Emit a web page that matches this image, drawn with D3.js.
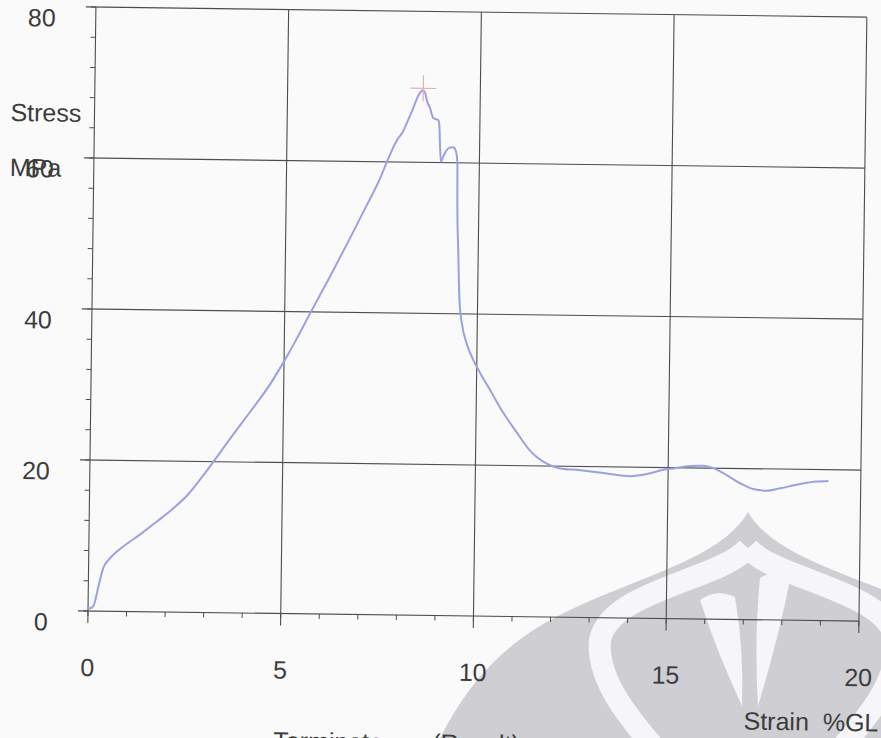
<!DOCTYPE html>
<html>
<head>
<meta charset="utf-8">
<script src="https://cdn.jsdelivr.net/npm/d3@7"></script>
<style>
  html, body { margin: 0; padding: 0; background: #fafafb; }
  svg { display: block; }
  text { font-family: "Liberation Sans", Arial, sans-serif; fill: #3c3c3c; }
</style>
</head>
<body>
<div id="chart"></div>
<script>
// values
const strain = [0.00, 0.05, 0.14, 0.26, 0.38, 0.55, 0.89, 1.32, 1.75, 2.18, 2.52, 3.05,
  3.62, 4.13, 4.64, 5.00, 5.32, 5.66, 6.08, 6.59, 7.09, 7.43, 7.60, 7.89, 7.98, 8.18,
  8.51, 8.57, 8.61, 8.70, 8.79, 8.92, 8.95, 8.97, 9.00, 9.06, 9.19, 9.32, 9.39, 9.43,
  9.44, 9.48, 9.53, 9.60, 9.73, 9.91, 10.09, 10.35, 10.70, 11.06, 11.41, 11.85, 12.20,
  12.72, 13.41, 14.01, 14.45, 14.88, 15.14, 15.57, 15.91, 16.17, 16.52, 16.87, 17.21,
  17.56, 17.91, 18.43, 18.86, 19.16];
const stress = [0.6, 0.35, 0.7, 3.2, 5.7, 7.0, 8.6, 10.2, 11.95, 13.75, 15.4, 18.9,
  23.0, 26.6, 30.3, 33.4, 36.4, 39.8, 43.9, 49.0, 54.2, 57.8, 60.0, 63.2, 63.8, 66.1,
  69.5, 69.2, 68.3, 67.2, 65.9, 65.6, 64.8, 62.6, 60.1, 60.8, 61.9, 62.05, 61.5, 59.9,
  55.1, 48.5, 41.8, 38.75, 36.1, 33.9, 32.2, 30.0, 27.0, 24.4, 22.0, 20.3, 19.7,
  19.5, 19.1, 18.8, 19.1, 19.7, 19.9, 20.25, 20.3, 20.0, 19.1, 18.05, 17.3,
  17.1, 17.45, 18.05, 18.4, 18.5];

const peakStrain = [8.52];
const peakStress = [69.8];

const xTicks = [0, 5, 10, 15, 20];
const yTicks = [0, 20, 40, 60, 80];
const xMinor = d3.range(0, 21, 1);
const yMinor = d3.range(0, 81, 4);

const W = 881, H = 738;
const svg = d3.select("#chart").append("svg")
  .attr("width", W).attr("height", H);

// faint university watermark behind the scan (rough shape only)
const wm = svg.append("g");
wm.append("path")
  .attr("d", "M748,512 C720,560 640,575 560,615 C500,645 460,690 430,760 L1070,760 " +
             "C1040,690 1000,645 940,615 C860,575 776,560 748,512 Z")
  .attr("fill", "#cfcfd3");
wm.append("path")
  .attr("d", "M748,548 C720,580 610,590 600,640 C596,680 630,720 665,760 " +
             "M748,548 C776,580 886,590 896,640 C900,680 866,720 831,760")
  .attr("fill", "none").attr("stroke", "#f6f6f8").attr("stroke-width", 22);
wm.append("path")
  .attr("d", "M700,600 Q716,588 735,597 Q744,650 742,706 Q716,650 700,600 Z")
  .attr("fill", "#f6f6f8");
wm.append("path")
  .attr("d", "M760,578 Q776,568 790,580 Q778,640 758,706 Q754,640 760,578 Z")
  .attr("fill", "#f6f6f8");

var x = d3.scaleLinear().domain([0, 20]).range([88, 859]);
var y = d3.scaleLinear().domain([0, 80]).range([611, 7]);

// the scan is tilted a little, so the whole chart is too
const g = svg.append("g")
  .attr("transform", "rotate(0.75," + x(0) + "," + y(0) + ")");

const gridColor = "#4d4d4d";

// minor ticks
g.selectAll("xminor").data(xMinor).enter().append("line")
  .attr("x1", d => x(d)).attr("x2", d => x(d))
  .attr("y1", y(0)).attr("y2", y(0) + 5)
  .attr("stroke", gridColor).attr("stroke-width", 1);
g.selectAll("yminor").data(yMinor).enter().append("line")
  .attr("x1", x(0) - 5).attr("x2", x(0))
  .attr("y1", d => y(d)).attr("y2", d => y(d))
  .attr("stroke", gridColor).attr("stroke-width", 1);

// grid lines (also the frame)
g.selectAll("xgrid").data(xTicks).enter().append("line")
  .attr("x1", d => x(d)).attr("x2", d => x(d))
  .attr("y1", y(80)).attr("y2", y(0) + 12)
  .attr("stroke", gridColor).attr("stroke-width", 1.1);
g.selectAll("ygrid").data(yTicks).enter().append("line")
  .attr("x1", x(0) - 10).attr("x2", x(20))
  .attr("y1", d => y(d)).attr("y2", d => y(d))
  .attr("stroke", gridColor).attr("stroke-width", 1.1);

// tick labels
g.selectAll("ylab").data(yTicks).enter().append("text")
  .attr("x", x(0) - 40).attr("y", d => y(d) + 20)
  .attr("text-anchor", "end").attr("font-size", 25)
  .text(d => d);
g.selectAll("xlab").data(xTicks).enter().append("text")
  .attr("x", d => x(d)).attr("y", y(0) + 65)
  .attr("text-anchor", "middle").attr("font-size", 25)
  .text(d => d);

// axis titles
g.append("text").attr("x", 4).attr("y", 122).attr("font-size", 25).text("Stress");
g.append("text").attr("x", 4).attr("y", 177).attr("font-size", 25).text("MPa");
g.append("text").attr("x", 745).attr("y", 721).attr("font-size", 25)
  .attr("xml:space", "preserve").text("Strain  %GL");
const term = g.append("text").attr("y", 747).attr("font-size", 25);
term.append("tspan").attr("x", 275).text("Terminate");
term.append("tspan").attr("x", 434).text("(Result)");

// the curve
const pts = strain.map((s, i) => [s, stress[i]]);
const line = d3.line()
  .x(d => x(d[0]))
  .y(d => y(d[1]))
  .curve(d3.curveMonotoneX);
g.append("path")
  .datum(pts)
  .attr("d", line)
  .attr("fill", "none")
  .attr("stroke", "#9ca0e2")
  .attr("stroke-width", 2);

// peak marker
g.selectAll("peakh").data(peakStrain).enter().append("line")
  .attr("x1", (d) => x(d) - 13).attr("x2", (d) => x(d) + 13)
  .attr("y1", (d, i) => y(peakStress[i])).attr("y2", (d, i) => y(peakStress[i]))
  .attr("stroke", "#e2b2a8").attr("stroke-width", 1.2);
g.selectAll("peakv").data(peakStrain).enter().append("line")
  .attr("x1", d => x(d)).attr("x2", d => x(d))
  .attr("y1", (d, i) => y(peakStress[i]) - 13).attr("y2", (d, i) => y(peakStress[i]) + 13)
  .attr("stroke", "#e2b2a8").attr("stroke-width", 1.2);
</script>
</body>
</html>
